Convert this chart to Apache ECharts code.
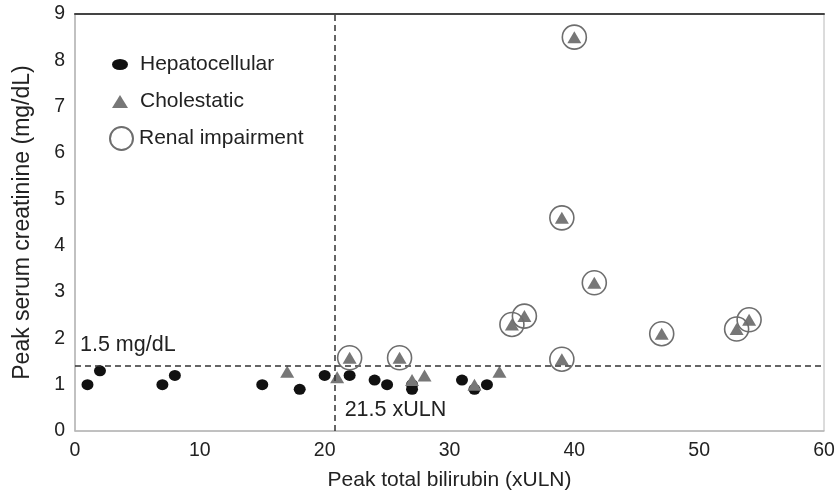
<!DOCTYPE html>
<html><head><meta charset="utf-8">
<script src="https://cdn.jsdelivr.net/npm/echarts@6/dist/echarts.min.js"></script>
<style>html,body{margin:0;padding:0;background:#fff}#c{width:839px;height:496px}</style>
</head><body><div id="c"></div>
<script>
// Data
const hepatocellular = [[1,1.0],[2,1.3],[7,1.0],[8,1.2],[15,1.0],[18,0.9],[20,1.2],[22,1.2],[24,1.1],[25,1.0],[27,1.0],[27,0.9],[31,1.1],[32,0.9],[33,1.0]];
const cholestatic = [[17,1.28],[21,1.16],[27,1.1],[28,1.2],[32,1.0],[34,1.28],
  [22,1.58],[26,1.58],[35,2.3],[36,2.48],[39,1.55],[39,4.6],[40,8.5],[41.6,3.2],[47,2.1],[53,2.2],[54,2.4]];
const renal = [[22,1.58],[26,1.58],[35,2.3],[36,2.48],[39,1.55],[39,4.6],[40,8.5],[41.6,3.2],[47,2.1],[53,2.2],[54,2.4]];
const creatinineCut = 1.4;
const bilirubinCut = 20.8;
const annotations = [{text:'1.5 mg/dL', value:[0.4,1.85]},{text:'21.5 xULN', value:[21.6,0.45]}];
const xTicks = {min:0, max:60, interval:10};
const yTicks = {min:0, max:9, interval:1};

const font = "'Liberation Sans', Arial, sans-serif";
const chart = echarts.init(document.getElementById('c'), null, {renderer:'canvas'});
chart.setOption({
  animation:false,
  textStyle:{fontFamily:font},
  grid:{left:75, right:15, top:14, bottom:64, show:true, borderColor:'#b8b8b8', borderWidth:1},
  legend:[
    {data:[{name:'Hepatocellular', icon:'path://M0,5.5A8,5.5 0 1,0 16,5.5A8,5.5 0 1,0 0,5.5Z'}],
     left:107, top:49, itemWidth:16, itemHeight:12, orient:'vertical',
     textStyle:{fontSize:21, color:'#222', fontFamily:font, padding:[0,0,0,7]}},
    {data:['Cholestatic'], left:107, top:86, itemWidth:16, itemHeight:13, orient:'vertical',
     textStyle:{fontSize:21, color:'#222', fontFamily:font, padding:[0,0,0,7]}},
    {data:['Renal impairment'], left:104, top:121, itemWidth:23, itemHeight:23, orient:'vertical',
     textStyle:{fontSize:21, color:'#222', fontFamily:font, padding:[0,0,0,1]}}
  ],
  xAxis:[{
    type:'value', min:xTicks.min, max:xTicks.max, interval:xTicks.interval,
    name:'Peak total bilirubin (xULN)', nameLocation:'middle', nameGap:39,
    nameTextStyle:{fontSize:21, color:'#222', fontFamily:font},
    axisLine:{show:true, onZero:false, lineStyle:{color:'#b8b8b8', width:1.5}},
    axisTick:{show:false}, splitLine:{show:false},
    axisLabel:{fontSize:19.5, color:'#222', margin:10, fontFamily:font}
  },{
    type:'value', position:'top', min:xTicks.min, max:xTicks.max,
    axisLine:{show:true, onZero:false, lineStyle:{color:'#444', width:2}}, axisTick:{show:false},
    axisLabel:{show:false}, splitLine:{show:false}
  }],
  yAxis:{
    type:'value', min:yTicks.min, max:yTicks.max, interval:yTicks.interval,
    name:'Peak serum creatinine (mg/dL)', nameLocation:'middle', nameGap:41,
    nameTextStyle:{fontSize:23, color:'#222', fontFamily:font},
    axisLine:{show:true, onZero:false, lineStyle:{color:'#b8b8b8', width:1.5}},
    axisTick:{show:false}, splitLine:{show:false},
    axisLabel:{fontSize:19.5, color:'#222', margin:10, fontFamily:font}
  },
  series:[
    {name:'Hepatocellular', type:'scatter', data:hepatocellular, symbol:'circle', symbolSize:[12,11],
     itemStyle:{color:'#111', opacity:1}, z:3,
     markLine:{silent:true, symbol:'none', label:{show:false},
       lineStyle:{type:[6,4], color:'#333', width:1.5},
       data:[{yAxis:creatinineCut},{xAxis:bilirubinCut}]}},
    {name:'Cholestatic', type:'scatter', data:cholestatic, symbol:'triangle', symbolSize:[14,12],
     itemStyle:{color:'#777', opacity:1}, z:4},
    {name:'Renal impairment', type:'scatter', data:renal, symbol:'circle', symbolSize:24,
     itemStyle:{color:'rgba(255,255,255,0)', borderColor:'#6e6e6e', borderWidth:1.6, opacity:1}, z:5},
    {name:'annot', type:'scatter', symbolSize:0, silent:true, itemStyle:{opacity:1},
     data:annotations.map(a=>({value:a.value, label:{formatter:a.text}})),
     label:{show:true, position:'right', distance:0, fontSize:21.5, color:'#222', fontFamily:font}}
  ]
});
</script></body></html>
